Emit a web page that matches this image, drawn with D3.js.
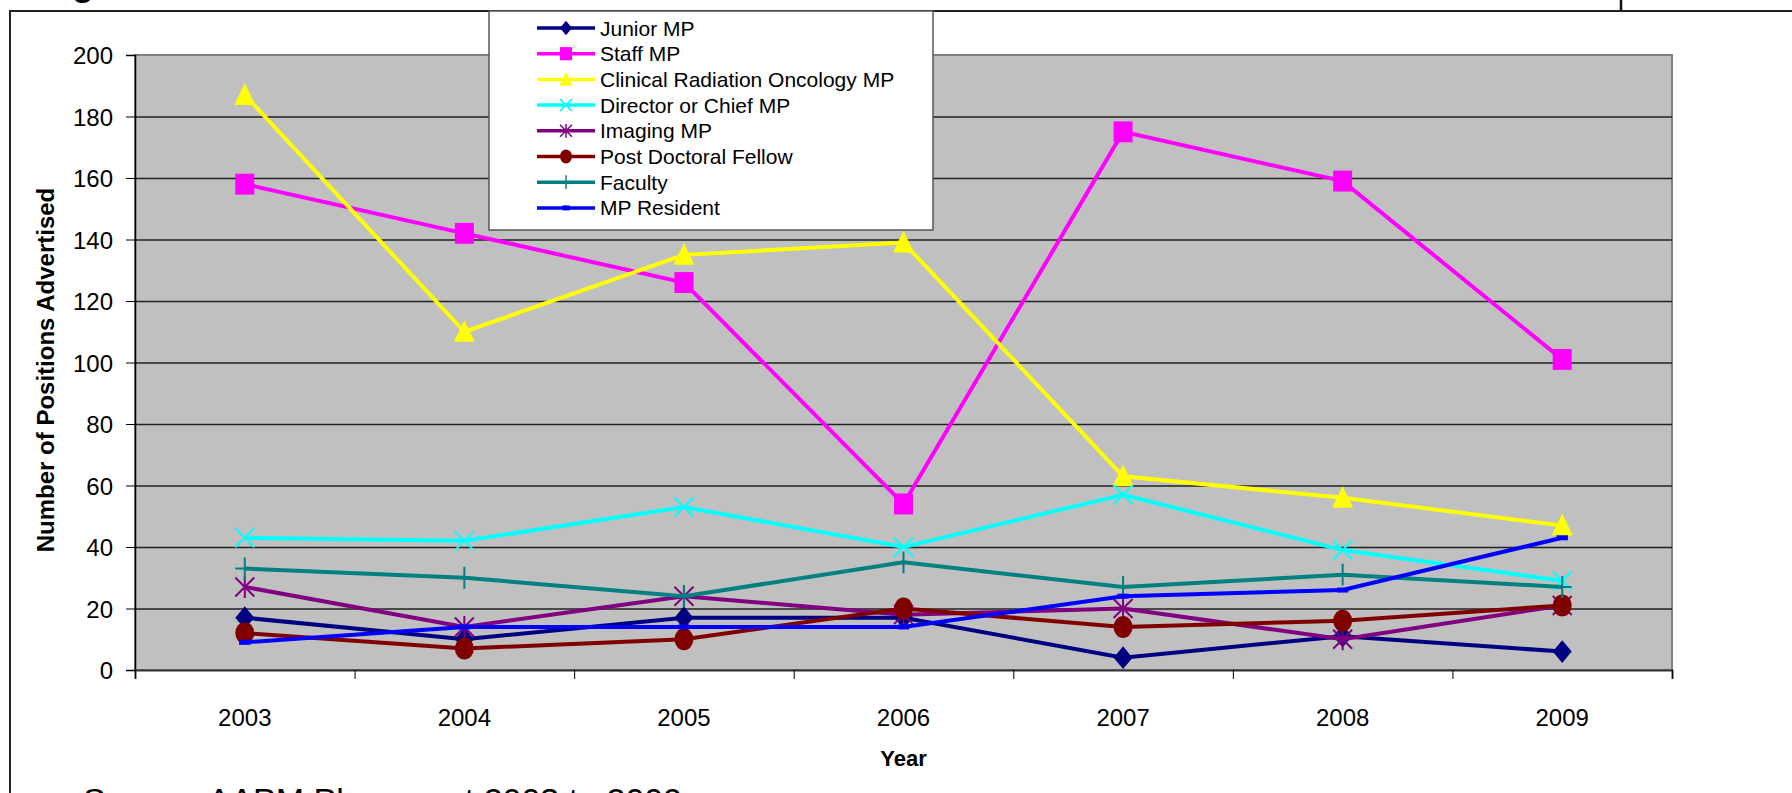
<!DOCTYPE html>
<meta charset="utf-8" />
<head>
  <script src="https://d3js.org/d3.v7.min.js"></script>
  <style>
    body { margin: 0; background: #fff; overflow: hidden; }
    svg { display: block; font-family: "Liberation Sans", Arial, sans-serif; }
  </style>
</head>
<body>
  <div id="my_chart"></div>
</body>
<script>
  // data
  var years = ["2003", "2004", "2005", "2006", "2007", "2008", "2009"];
  var seriesNames = ["Junior MP", "Staff MP", "Clinical Radiation Oncology MP", "Director or Chief MP",
    "Imaging MP", "Post Doctoral Fellow", "Faculty", "MP Resident"];
  var juniorMP = [17, 10, 17, 17, 4, 11, 6];
  var staffMP = [158, 142, 126, 54, 175, 159, 101];
  var clinicalMP = [187, 110, 135, 139, 63, 56, 47];
  var directorMP = [43, 42, 53, 40, 57, 39, 29];
  var imagingMP = [27, 14, 24, 18, 20, 10, 21];
  var postDoc = [12, 7, 10, 20, 14, 16, 21];
  var faculty = [33, 30, 24, 35, 27, 31, 27];
  var mpResident = [9, 14, 14, 14, 24, 26, 43];
  var yTicks = [0, 20, 40, 60, 80, 100, 120, 140, 160, 180, 200];

  var colors = ["#000080", "#ff00ff", "#ffff00", "#00ffff", "#800080", "#800000", "#008080", "#0000ff"];
  var markers = ["diamond", "square", "triangle", "x", "star", "circle", "plus", "dash"];
  var values = [juniorMP, staffMP, clinicalMP, directorMP, imagingMP, postDoc, faculty, mpResident];

  var series = seriesNames.map(function (name, i) {
    return { name: name, color: colors[i], marker: markers[i],
      points: years.map(function (yr, j) { return { year: yr, value: values[i][j] }; }) };
  });

  var W = 1792, H = 793;
  var margin = { top: 55, right: 120, bottom: 123, left: 135 },
    width = W - margin.left - margin.right,
    height = H - margin.top - margin.bottom;

  var svg = d3.select("#my_chart").append("svg")
    .attr("width", W).attr("height", H);

  // title and source note run past the edges of the picture
  svg.append("text")
    .attr("x", 40).attr("y", -5)
    .style("font-size", "36px").style("font-weight", "bold")
    .text("Figure 1");

  svg.append("text")
    .attr("x", 83).attr("y", 812)
    .style("font-size", "34px")
    .text("Source: AAPM Placement 2003 to 2009");

  // outer frame
  svg.append("path")
    .attr("d", "M10," + H + "V11H" + W)
    .attr("fill", "none").attr("stroke", "#222").attr("stroke-width", 2);
  svg.append("line")
    .attr("x1", 1621).attr("x2", 1621).attr("y1", 0).attr("y2", 11)
    .attr("stroke", "#111").attr("stroke-width", 2.5);

  var g = svg.append("g")
    .attr("transform", "translate(" + margin.left + "," + margin.top + ")");

  var x = d3.scaleBand().domain(years).range([0, width]);
  var xb = d3.scaleLinear().domain([0, years.length]).range([0, width]);
  var y = d3.scaleLinear().domain([0, 200]).range([height, 0]);

  // plot area
  g.append("rect")
    .attr("width", width).attr("height", height)
    .attr("fill", "#c0c0c0").attr("stroke", "#808080").attr("stroke-width", 2);

  // gridlines
  g.append("g")
    .attr("class", "grid")
    .call(d3.axisLeft(y).tickValues(yTicks.slice(1, -1)).tickSize(-width).tickFormat(""))
    .call(function (s) { s.select(".domain").remove(); })
    .selectAll("line").attr("stroke", "#222").attr("stroke-width", 1.3);

  // y axis
  var yAxis = g.append("g")
    .call(d3.axisLeft(y).tickValues(yTicks).tickSize(9).tickPadding(13));
  yAxis.select(".domain").attr("stroke", "#000").attr("stroke-width", 1.5);
  yAxis.selectAll("line").attr("stroke", "#000");
  yAxis.selectAll("text").style("font-size", "24px").attr("fill", "#000").attr("dy", "0.36em");

  // x axis: ticks between categories, labels centred
  var xTicks = g.append("g")
    .attr("transform", "translate(0," + height + ")")
    .call(d3.axisBottom(xb).tickValues(d3.range(years.length + 1)).tickSize(9).tickFormat(""));
  xTicks.select(".domain").attr("stroke", "#333").attr("stroke-width", 2);
  xTicks.selectAll("line").attr("stroke", "#000");

  var xLabels = g.append("g")
    .attr("transform", "translate(0," + height + ")")
    .call(d3.axisBottom(x).tickSize(0).tickPadding(39));
  xLabels.select(".domain").remove();
  xLabels.selectAll("text").style("font-size", "24px").attr("fill", "#000");

  // axis titles
  svg.append("text")
    .attr("x", margin.left + width / 2).attr("y", 766)
    .attr("text-anchor", "middle")
    .style("font-size", "22px").style("font-weight", "bold")
    .text("Year");

  svg.append("text")
    .attr("transform", "translate(54,370) rotate(-90)")
    .attr("text-anchor", "middle")
    .style("font-size", "24px").style("font-weight", "bold")
    .text("Number of Positions Advertised");

  // marker shapes
  function markerPath(type, s) {
    if (type === "diamond") return "M0," + (-s * 1.2) + "L" + s + ",0L0," + (s * 1.2) + "L" + (-s) + ",0Z";
    if (type === "square") return "M" + (-s) + "," + (-s * 1.1) + "h" + (2 * s) + "v" + (2.2 * s) + "h" + (-2 * s) + "Z";
    if (type === "triangle") return "M0," + (-s * 1.25) + "L" + (s * 1.1) + "," + (s * 1.05) + "L" + (-s * 1.1) + "," + (s * 1.05) + "Z";
    if (type === "circle") return "M" + (-s) + ",0a" + s + "," + (s * 1.15) + " 0 1,0 " + (2 * s) + ",0a" + s + "," + (s * 1.15) + " 0 1,0 " + (-2 * s) + ",0Z";
    if (type === "x") return "M" + (-s) + "," + (-s) + "L" + s + "," + s + "M" + (-s) + "," + s + "L" + s + "," + (-s);
    if (type === "star") return "M" + (-s) + "," + (-s) + "L" + s + "," + s + "M" + (-s) + "," + s + "L" + s + "," + (-s) + "M0," + (-s * 1.15) + "V" + (s * 1.15);
    if (type === "plus") return "M0," + (-s * 1.15) + "V" + (s * 1.15) + "M" + (-s) + ",0H" + s;
    if (type === "dash") return "M" + (-s * 0.6) + ",-2.5h" + (s * 1.2) + "v5h" + (-s * 1.2) + "Z";
  }
  var filled = { diamond: 1, square: 1, triangle: 1, circle: 1, dash: 1 };

  var line = d3.line()
    .x(function (d) { return x(d.year) + x.bandwidth() / 2; })
    .y(function (d) { return y(d.value); });

  var sg = g.selectAll(".series").data(series).enter().append("g").attr("class", "series");
  sg.append("path")
    .attr("d", function (d) { return line(d.points); })
    .attr("fill", "none")
    .attr("stroke", function (d) { return d.color; })
    .attr("stroke-width", 4)
    .attr("stroke-linejoin", "miter");

  sg.each(function (s) {
    d3.select(this).selectAll(".mk").data(s.points).enter().append("path")
      .attr("class", "mk")
      .attr("transform", function (d) {
        return "translate(" + (x(d.year) + x.bandwidth() / 2) + "," + y(d.value) + ")";
      })
      .attr("d", markerPath(s.marker, 9.5))
      .attr("fill", filled[s.marker] ? s.color : "none")
      .attr("stroke", s.color)
      .attr("stroke-width", filled[s.marker] ? 0 : 2);
  });

  // legend
  var leg = svg.append("g");
  leg.append("rect")
    .attr("x", 489).attr("y", 11).attr("width", 444).attr("height", 219)
    .attr("fill", "#fff").attr("stroke", "#555").attr("stroke-width", 1.5);

  var li = leg.selectAll(".li").data(series).enter().append("g")
    .attr("transform", function (d, i) { return "translate(537," + (28 + i * 25.7) + ")"; });
  li.append("line")
    .attr("x1", 0).attr("x2", 58)
    .attr("stroke", function (d) { return d.color; }).attr("stroke-width", 3.5);
  li.append("path")
    .attr("transform", "translate(29,0)")
    .attr("d", function (d) { return markerPath(d.marker, 6); })
    .attr("fill", function (d) { return filled[d.marker] ? d.color : "none"; })
    .attr("stroke", function (d) { return d.color; })
    .attr("stroke-width", function (d) { return filled[d.marker] ? 0 : 1.5; });
  li.append("text")
    .attr("x", 63).attr("dy", "0.36em")
    .style("font-size", "21px")
    .text(function (d) { return d.name; });
</script>
